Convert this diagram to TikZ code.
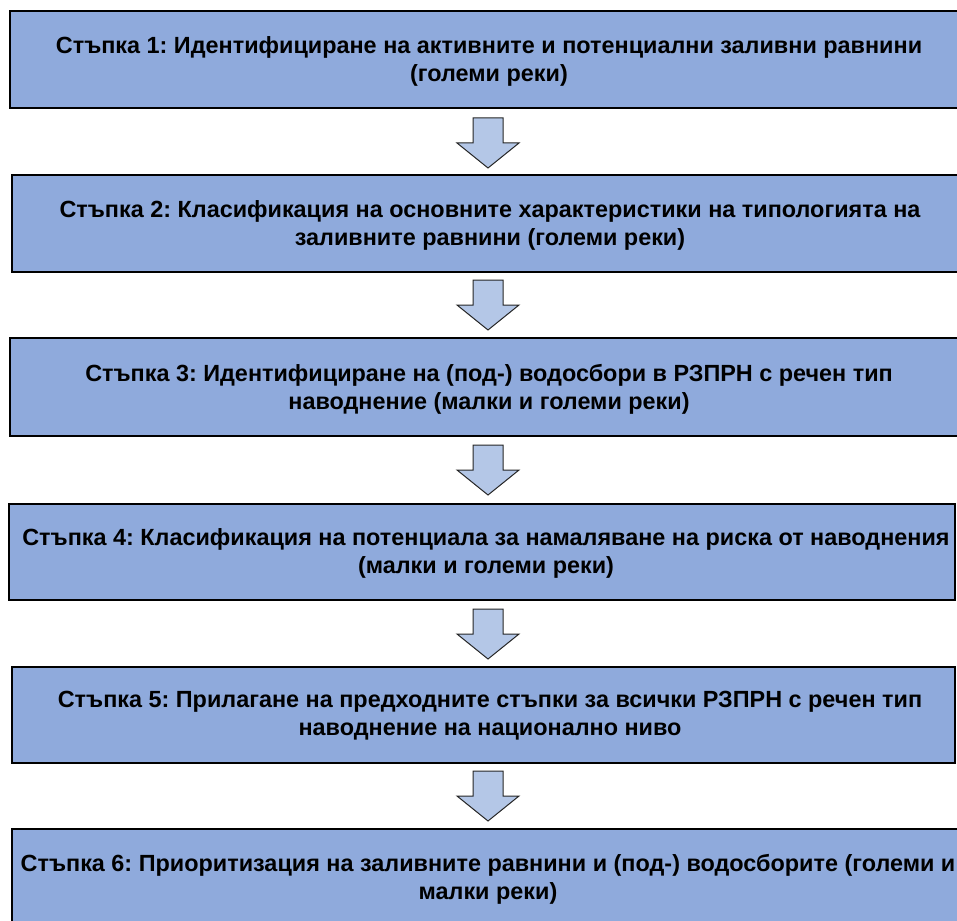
\documentclass[tikz,border=0pt]{standalone}
\usepackage{fontspec}
\setmainfont{Liberation Sans}
\frenchspacing
\definecolor{boxfill}{RGB}{143,170,220}
\definecolor{arrfill}{RGB}{180,199,231}
\tikzset{
  x=1pt, y=-1pt,
  stepbox/.style={draw=black, line width=2pt, fill=boxfill, rectangle, inner sep=0pt},
  steptext/.style={align=center, font=\fontsize{23.4}{28}\selectfont\bfseries\frenchspacing, inner sep=0pt, text=black},
  arrowsty/.style={draw=black!85, line width=1pt, fill=arrfill, line join=miter},
  downarrow/.pic={\draw[arrowsty] (-15,-25) -- (15,-25) -- (15,0) -- (31,0) -- (0,25) -- (-31,0) -- (-15,0) -- cycle;}
}
\begin{document}
\begin{tikzpicture}
\useasboundingbox (0,0) rectangle (957,920);
\clip (0,0) rectangle (957,920);
% boxes
\node[stepbox, minimum width=960pt, minimum height=97pt] (b1) at (490,59.5) {};
\node[stepbox, minimum width=958pt, minimum height=97pt] (b2) at (491,223.5) {};
\node[stepbox, minimum width=960pt, minimum height=98pt] (b3) at (490,387) {};
\node[stepbox, minimum width=946pt, minimum height=96pt] (b4) at (482,551.5) {};
\node[stepbox, minimum width=943pt, minimum height=96pt] (b5) at (483.5,715) {};
\node[stepbox, minimum width=958pt, minimum height=101pt] (b6) at (491,879.5) {};
% texts
\node[steptext] (t1) at (489,61) {Стъпка 1: Идентифициране на активните и потенциални заливни равнини\\(големи реки)};
\node[steptext] (t2) at (490,225) {Стъпка 2: Класификация на основните характеристики на типологията на\\заливните равнини (големи реки)};
\node[steptext] (t3) at (489,389) {Стъпка 3: Идентифициране на (под-) водосбори в РЗПРН с речен тип\\наводнение (малки и големи реки)};
\node[steptext] (t4) at (486,553) {Стъпка 4: Класификация на потенциала за намаляване на риска от наводнения\\(малки и големи реки)};
\node[steptext] (t5) at (490,716) {Стъпка 5: Прилагане на предходните стъпки за всички РЗПРН с речен тип\\наводнение на национално ниво};
\node[steptext] (t6) at (488,879) {Стъпка 6: Приоритизация на заливните равнини и (под-) водосборите (големи и\\малки реки)};
% arrows
\pic at (488,143) {downarrow};
\pic at (488,305) {downarrow};
\pic at (488,470) {downarrow};
\pic at (488,634) {downarrow};
\pic at (488,796) {downarrow};
\end{tikzpicture}
\end{document}
